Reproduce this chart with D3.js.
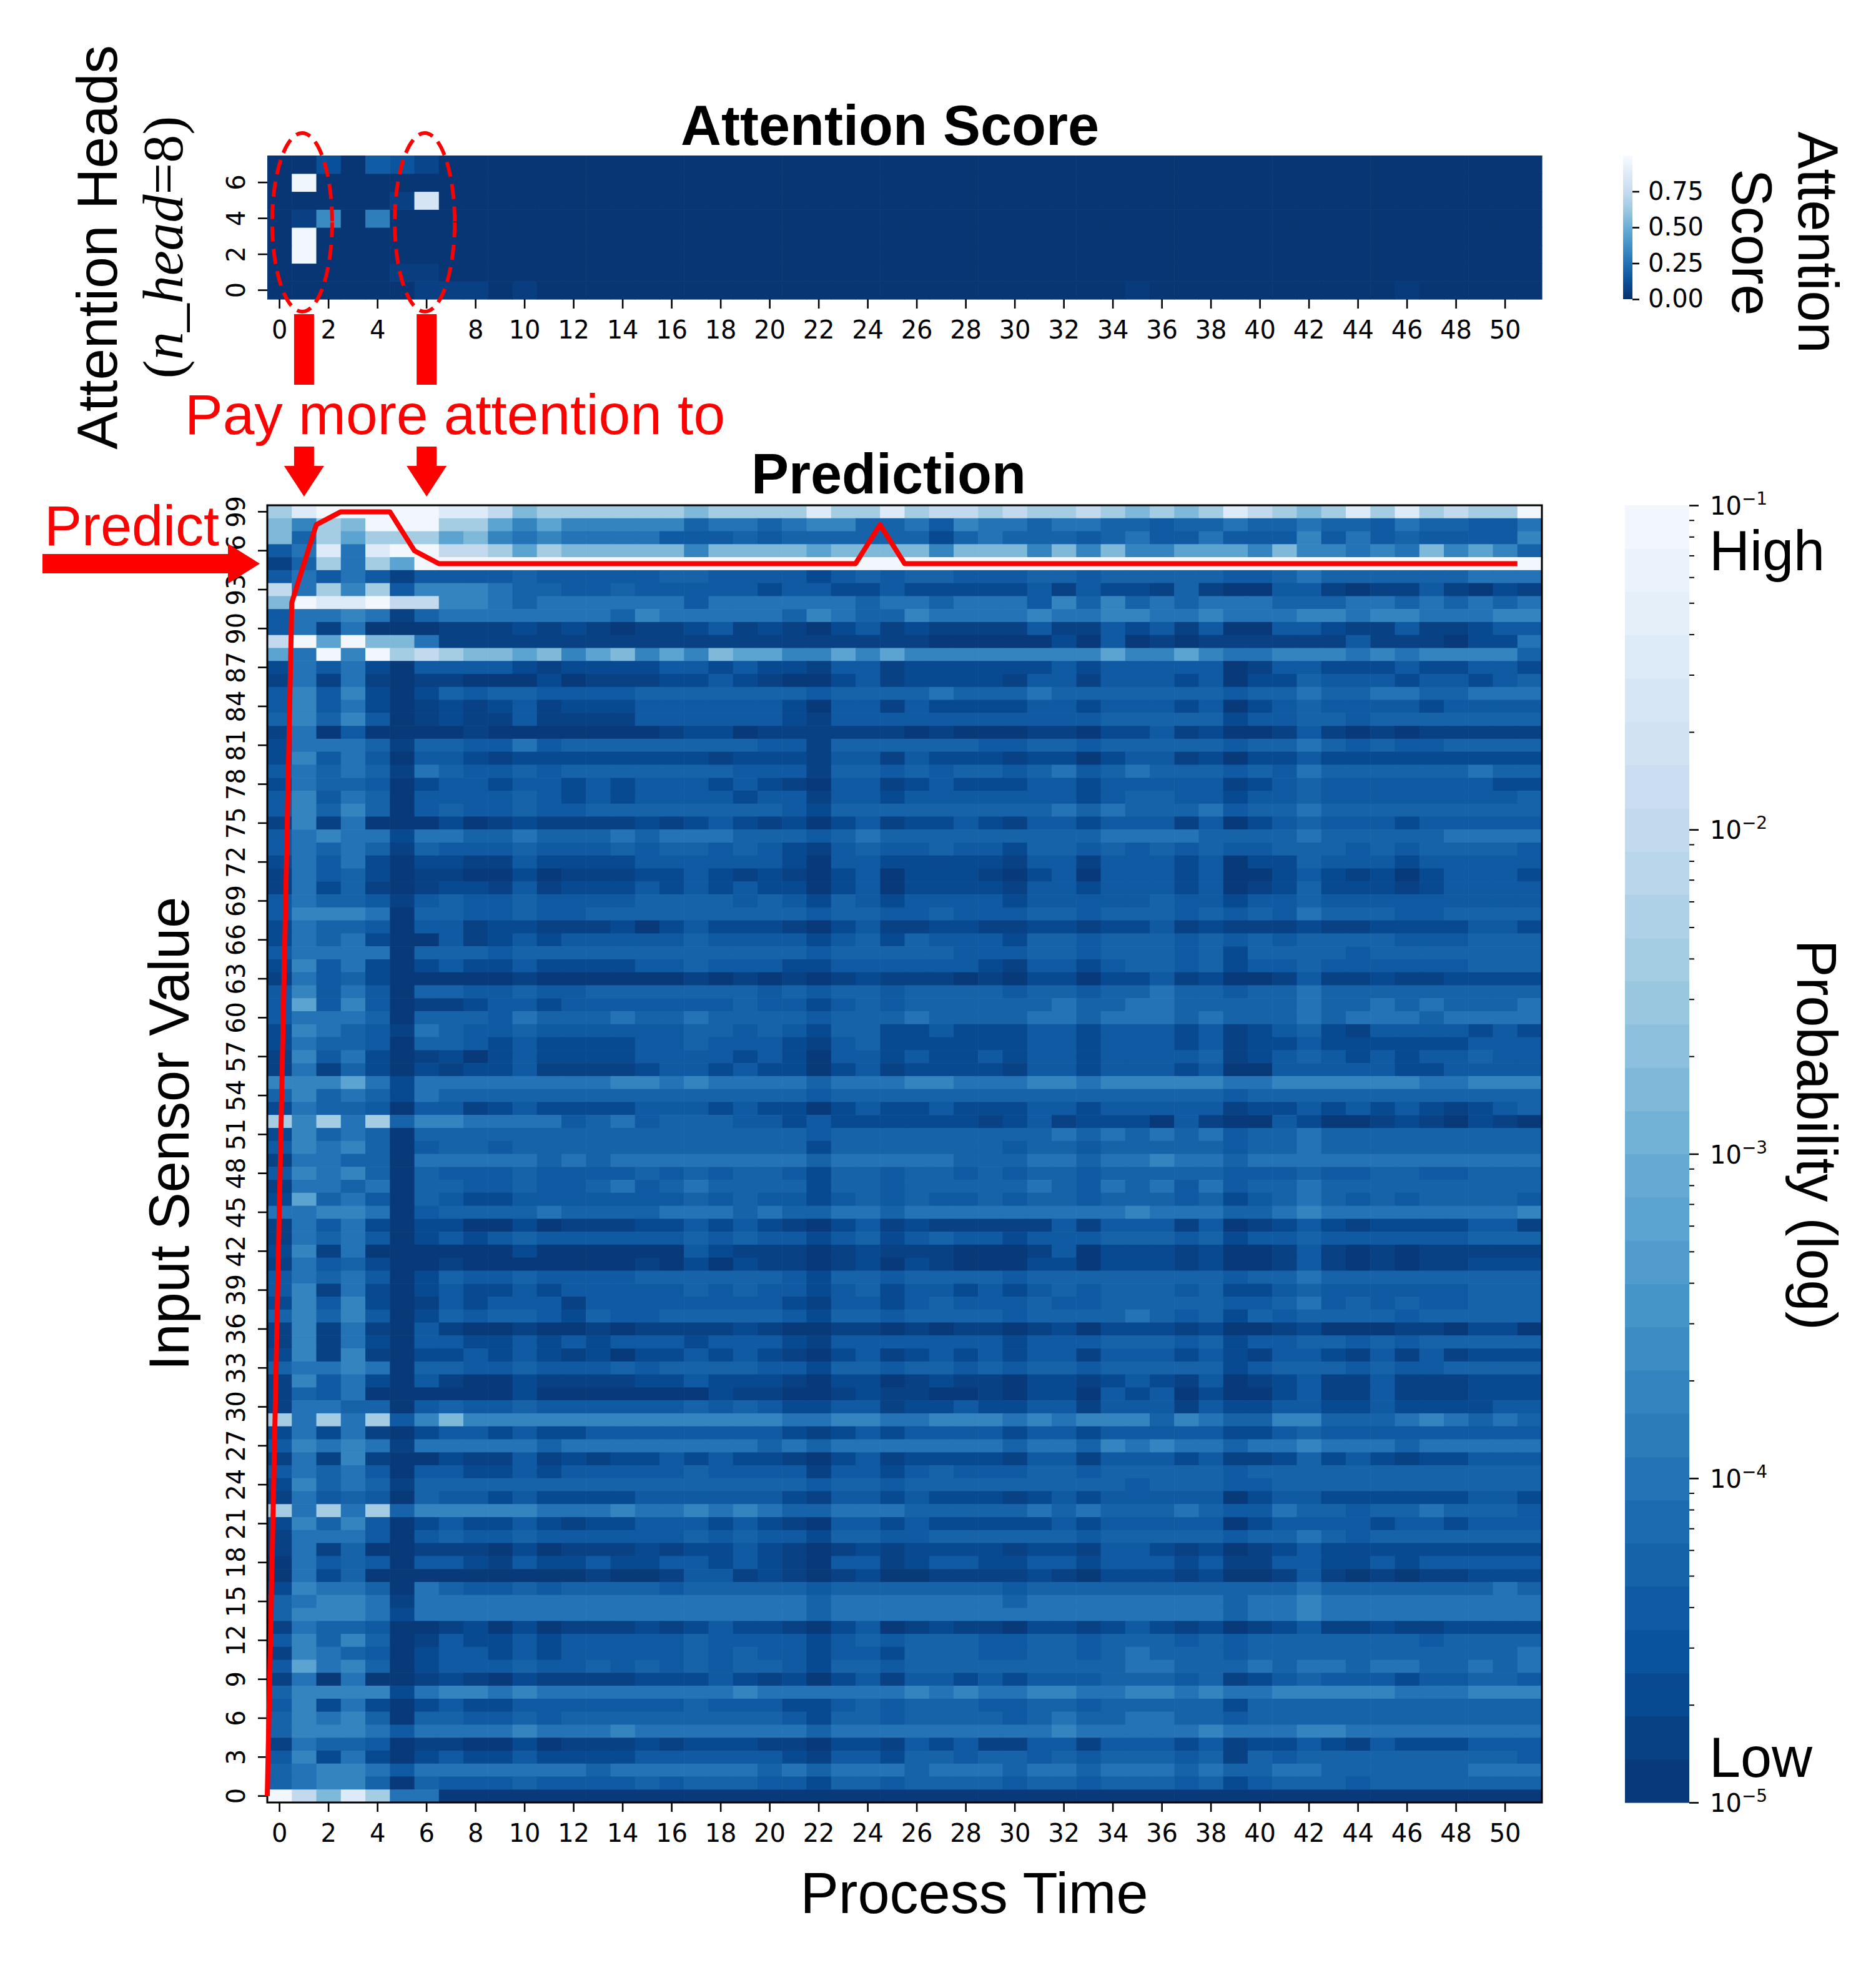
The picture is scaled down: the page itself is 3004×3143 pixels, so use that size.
<!DOCTYPE html>
<html>
<head>
<meta charset="utf-8">
<script src="https://cdn.jsdelivr.net/npm/d3@7"></script>
<style>
  body { margin: 0; background: #fff; }
</style>
</head>
<body>
<div id="chart"></div>
<script>
// ----- DATA ------------------------------------------------------------//
const timeSteps = d3.range(52);          // process time 0..51
const sensorValues = d3.range(100);      // input sensor value classes 0..99
const headIds = d3.range(8);             // attention heads 0..7

const xTickValues = d3.range(0, 52, 2);
const yTickValues = d3.range(0, 100, 3);
const headTickValues = [0, 2, 4, 6];
const attTickValues = [0, 0.25, 0.5, 0.75];
const probMajorTicks = [1e-5, 1e-4, 1e-3, 1e-2, 1e-1];

// attention score per head (row) and time step (column)
const head0 = [0.02,0.02,0.02,0.02,0.02,0.02,0.06,0.06,0.06,0.02,0.05,0.02,0.02,
               0.02,0.02,0.02,0.02,0.02,0.02,0.02,0.02,0.02,0.02,0.02,0.02,0.02,
               0.02,0.02,0.02,0.02,0.02,0.02,0.02,0.02,0.02,0.04,0.02,0.02,0.02,
               0.02,0.02,0.02,0.02,0.02,0.02,0.02,0.04,0.02,0.02,0.02,0.02,0.02];
const head1 = [0.02,0.02,0.02,0.02,0.02,0.05,0.05,0.02,0.02,0.02,0.02,0.02,0.02,
               0.02,0.02,0.02,0.02,0.02,0.02,0.02,0.02,0.02,0.02,0.02,0.02,0.02,
               0.02,0.02,0.02,0.02,0.02,0.02,0.02,0.02,0.02,0.02,0.02,0.02,0.02,
               0.02,0.02,0.02,0.02,0.02,0.02,0.02,0.02,0.02,0.02,0.02,0.02,0.02];
const head2 = [0.02,0.97,0.02,0.02,0.02,0.02,0.02,0.02,0.02,0.02,0.02,0.02,0.02,
               0.02,0.02,0.02,0.02,0.02,0.02,0.02,0.02,0.02,0.02,0.02,0.02,0.02,
               0.02,0.02,0.02,0.02,0.02,0.02,0.02,0.02,0.02,0.02,0.02,0.02,0.02,
               0.02,0.02,0.02,0.02,0.02,0.02,0.02,0.02,0.02,0.02,0.02,0.02,0.02];
const head3 = [0.02,0.97,0.02,0.02,0.02,0.02,0.02,0.02,0.02,0.02,0.02,0.02,0.02,
               0.02,0.02,0.02,0.02,0.02,0.02,0.02,0.02,0.02,0.02,0.02,0.02,0.02,
               0.02,0.02,0.02,0.02,0.02,0.02,0.02,0.02,0.02,0.02,0.02,0.02,0.02,
               0.02,0.02,0.02,0.02,0.02,0.02,0.02,0.02,0.02,0.02,0.02,0.02,0.02];
const head4 = [0.02,0.06,0.35,0.02,0.30,0.02,0.02,0.02,0.02,0.02,0.02,0.02,0.02,
               0.02,0.02,0.02,0.02,0.02,0.02,0.02,0.02,0.02,0.02,0.02,0.02,0.02,
               0.02,0.02,0.02,0.02,0.02,0.02,0.02,0.02,0.02,0.02,0.02,0.02,0.02,
               0.02,0.02,0.02,0.02,0.02,0.02,0.02,0.02,0.02,0.02,0.02,0.02,0.02];
const head5 = [0.02,0.02,0.02,0.02,0.02,0.06,0.83,0.02,0.02,0.02,0.02,0.02,0.02,
               0.02,0.02,0.02,0.02,0.02,0.02,0.02,0.02,0.02,0.02,0.02,0.02,0.02,
               0.02,0.02,0.02,0.02,0.02,0.02,0.02,0.02,0.02,0.02,0.02,0.02,0.02,
               0.02,0.02,0.02,0.02,0.02,0.02,0.02,0.02,0.02,0.02,0.02,0.02,0.02];
const head6 = [0.02,0.96,0.02,0.02,0.02,0.02,0.02,0.02,0.02,0.02,0.02,0.02,0.02,
               0.02,0.02,0.02,0.02,0.02,0.02,0.02,0.02,0.02,0.02,0.02,0.02,0.02,
               0.02,0.02,0.02,0.02,0.02,0.02,0.02,0.02,0.02,0.02,0.02,0.02,0.02,
               0.02,0.02,0.02,0.02,0.02,0.02,0.02,0.02,0.02,0.02,0.02,0.02,0.02];
const head7 = [0.02,0.02,0.12,0.02,0.17,0.14,0.08,0.02,0.02,0.02,0.02,0.02,0.02,
               0.02,0.02,0.02,0.02,0.02,0.02,0.02,0.02,0.02,0.02,0.02,0.02,0.02,
               0.02,0.02,0.02,0.02,0.02,0.02,0.02,0.02,0.02,0.02,0.02,0.02,0.02,
               0.02,0.02,0.02,0.02,0.02,0.02,0.02,0.02,0.02,0.02,0.02,0.02,0.02];
const attentionHeads = [head0, head1, head2, head3, head4, head5, head6, head7];

// log10 probability for each level code used in the grid below
const probLevelLog = {
  "0": -4.93, "1": -4.80, "2": -4.67, "3": -4.40, "4": -4.27, "5": -4.00,
  "6": -3.73, "7": -3.20, "8": -2.80, "9": -2.40, "a": -2.00, "b": -1.47, "c": -1.07
};

// prediction probability grid, one string per sensor value (99 at top, 0 at bottom),
// one level code per process time step (spaces only for readability)
const probRowsTopDown = [
  "9bccccc bba89999 9989999b 99b9aa9a 99a98989 ba989b9b 9a99c", // 99
  "8698ccc 99767666 66455456 64453655 45544344 54454435 44335",
  "8497999 78656555 53334344 44442454 44345335 33363534 33336",
  "35b5bcc aa979888 88688887 88886888 68686677 76866565 86764",
  "149597c cccccccc cccccccc cccccccc cccccccc cccccccc ccccc", // 95
  "3535313 33343333 34433332 34344333 44344444 33454444 44555",
  "a596936 66544334 33333233 22322222 31322141 00331011 31021",
  "8cbbcaa 66545555 55355555 54554555 36464545 55444554 54545",
  "3556514 55555554 65555546 54465555 65566556 55566566 55566",
  "3515000 11121210 11231210 23121111 31132313 00332113 11233", // 90
  "ac7c885 11111111 11111111 11110000 02030101 11111311 10225",
  "75c6c9a 98878678 67687766 76766666 66676676 55666565 66664",
  "2535203 33321222 23323221 33122222 23233333 01332223 22332",
  "1515101 10002011 12232100 23122221 33133323 02243332 33234",
  "3636202 43443333 44444443 44445444 54444444 34454455 44555", // 85
  "3635201 21231222 33333320 33132222 33233323 02343333 23333",
  "4646301 21131111 33333321 33333333 33344444 23344344 44444",
  "1503000 01000000 01220111 11101000 11022312 00131010 11111",
  "2555414 43353444 44444331 44444433 44344444 34454343 34444",
  "2635303 32122222 22212221 33132221 22023312 02232222 22222", // 80
  "3545415 43343444 44443331 44343443 45345444 34354444 44544",
  "2544302 33233232 33323210 33123222 33233333 12343333 33322",
  "3635403 33343232 33332331 33233333 33234433 23343333 33334",
  "3646403 43343344 44444432 44444444 45454445 34454444 44444",
  "1615000 20121111 21232120 23122321 33233313 02343332 33333", // 75
  "3565525 54454445 45554443 45444444 44455554 44454444 45555",
  "3545414 33343334 34434321 34334332 44343434 33444343 44443",
  "2535202 21132222 33333320 33222221 33133323 02243332 33333",
  "1534201 10020111 22321210 23022210 23033323 00232120 23332",
  "1524101 22131222 32323220 23022221 33233323 01242221 23333", // 70
  "3544313 43343333 44443432 43233332 33333433 23343333 33333",
  "3666504 43343344 44444443 44334333 44344434 34354443 34444",
  "2544303 31221112 02322210 23112211 22122312 11121122 22332",
  "2545200 31232333 33433332 34243332 44344434 34344443 33444",
  "3555504 44344444 44444443 44444333 44344434 24444344 44444", // 65
  "2635202 32232222 33433322 33333321 33234434 23343333 33444",
  "1534200 00010000 00101010 12111010 22022312 00131121 12222",
  "3635304 43343344 44444343 44344443 44344544 34454444 44444",
  "3736301 12332333 33334332 34344444 45445544 44454454 54445",
  "3555404 44354445 44544443 44454444 55455545 44454555 45555", // 60
  "2654315 43343333 33443432 44223222 33233323 12342133 33232",
  "2544304 43232222 33433321 34222222 33233323 12232222 22333",
  "1635201 20232222 33332320 33232232 33233334 12343232 33433",
  "1514202 12231111 23323220 23122221 33233323 00333332 23333",
  "6667525 55555556 65655554 55566555 66566666 55666666 55666", // 55
  "4645425 44444444 44444443 44444444 44444444 34444444 44444",
  "2544303 31232222 33323220 23223222 33233333 12232323 21234",
  "9695946 65555345 34443323 22222212 31222031 00320012 10210",
  "2645404 44444444 44444443 44444444 45454545 34454444 44444",
  "3656403 44344444 44444442 44444443 44344444 34454444 44444", // 50
  "1554405 55554545 55555554 55555444 55455655 45555555 55555",
  "3656404 33343333 43434432 44344343 44344444 33343344 33444",
  "1554504 43343345 34544442 44344444 54354535 34454444 44444",
  "2745304 32233333 33434332 34343343 44344434 23454343 44443",
  "5566503 44445444 45554544 55455555 55556555 44565555 55556", // 45
  "1535202 20020111 22323210 23121111 13133313 01232122 22331",
  "1545302 32343333 33434332 34234332 33344434 23343333 33444",
  "2615000 00020000 00321110 12111000 13022212 00131010 11111",
  "1534200 10000000 10202110 12021000 22022212 00131010 11222",
  "3545302 43343333 44444432 44344443 44444444 34454444 44444", // 40
  "3615202 32232333 33434332 34233232 34344434 22343333 33444",
  "2636201 32333133 33333321 33234333 43344444 33453434 33444",
  "4646302 43443243 34444432 44344443 44445434 24344443 44444",
  "1615103 10010010 11112100 11010110 12022212 00120001 10220",
  "1615203 32232323 33233321 33333332 33344434 23344343 44444", // 35
  "2616102 23232120 22323210 23123232 33133323 21332131 31222",
  "4556504 43343334 34444332 44344343 44344444 23444343 34444",
  "1635203 10021111 22322210 22012110 22123213 01231131 11222",
  "1435000 00020000 00021100 12110010 22032302 00231131 11222",
  "1554403 43343333 33434322 33122322 33133313 22332232 22233", // 30
  "9595936 86666666 66666655 66556665 65666465 44664445 65454",
  "2525102 33232233 33333321 23233332 33233333 22343333 33333",
  "3656515 55554555 55555454 55555554 55465655 45565554 55555",
  "1516100 21131212 23232210 23122221 33133323 11242321 22333",
  "3545303 32232333 33433331 33234333 44344444 34444444 44444", // 25
  "2645414 44444444 44444443 44344444 44443444 33444444 44444",
  "1534304 33232222 33333321 33232221 23233333 02332222 22332",
  "9595946 66665556 55656544 55544444 54544454 33544344 54443",
  "2646302 32232122 33323210 33232222 23233333 02333323 32333",
  "1555303 43343333 33434332 44334444 44344444 34454344 44444", // 20
  "1514001 11020111 21223210 12122221 22133212 01232222 22222",
  "0534303 32132232 23323210 33123322 33233323 11332232 33333",
  "0524000 00000010 01331210 12001111 21022212 00131010 11222",
  "2655405 43343444 43444443 44444443 44444444 44454444 44454",
  "4566515 55555555 55555554 55555554 55555555 45565555 55555", // 15
  "4666525 55555555 55555554 55555555 55555555 45565555 55555",
  "1544300 12020111 21232210 23012110 22123212 01231121 12222",
  "3646401 32232333 33433332 34344433 44344434 34444444 34444",
  "1654302 33232333 33434332 33244433 44345444 34444444 44445",
  "3756402 33343343 43434432 44344444 44445544 45455455 44545", // 10
  "1505001 21021111 22232120 23133232 33344434 12343332 33443",
  "4666625 66565555 55556555 55565655 66556656 55666665 55666",
  "3625202 32233333 33433322 34344433 44344444 24444444 44444",
  "4656404 43343444 44444432 44344443 45445544 34444444 44444",
  "4666535 55565556 55555554 55555555 56555556 55566555 55555", // 5
  "1544301 10020111 21222110 22132311 33133323 12232132 22333",
  "3625202 32232222 33333321 33244344 34344434 14344444 44443",
  "4566535 55555545 55555454 55545554 55455545 44554444 44555",
  "4566404 33343333 43444332 44344443 44344434 23444344 44444",
  "ca8b955 00000000 00000000 00000000 00000000 00000000 00000"  // 0
];

// predicted sensor value at every process time step (red line)
const predictedValue = [0, 92, 98, 99, 99, 99, 96,
  95, 95, 95, 95, 95, 95, 95, 95, 95, 95, 95, 95, 95, 95, 95, 95, 95, 95,
  98,
  95, 95, 95, 95, 95, 95, 95, 95, 95, 95, 95, 95, 95, 95, 95, 95, 95, 95,
  95, 95, 95, 95, 95, 95, 95, 95];

// time steps the heads attend to most (annotation)
const attendedSteps = [1, 6];
// sensor value the model predicts (annotation arrow)
const predictArrowValue = 95;

// ----- SETUP -----------------------------------------------------------//
const width = 3004;
const height = 3143;

const plotX0 = 428, plotX1 = 2469;
const headY0 = 249, headY1 = 479;
const probY0 = 809, probY1 = 2886;
const sansFont = "'Liberation Sans', Arial, sans-serif";
const tickFont = "'DejaVu Sans', sans-serif";
const red = "#ff0000";

const svg = d3.select("#chart").append("svg")
    .attr("width", width)
    .attr("height", height)
    .style("background", "#fff");

// matplotlib "Blues" (piecewise linear through its 9 anchors)
const blues = d3.scaleLinear()
    .domain([0, 0.125, 0.25, 0.375, 0.5, 0.625, 0.75, 0.875, 1])
    .range(["#f7fbff", "#deebf7", "#c6dbef", "#9ecae1", "#6baed6",
            "#4292c6", "#2171b5", "#08519c", "#08306b"])
    .interpolate(d3.interpolateRgb);

const nBands = 30;
const bandColors = d3.range(nBands).map(i => blues(1 - (i + 1) / (nBands + 1)));
const probColor = d3.scaleQuantize().domain([-5, -1]).range(bandColors);
const attColor = v => blues(1 - v);

const x = d3.scaleBand().domain(timeSteps).range([plotX0, plotX1]);
const xEdge = d3.scaleLinear().domain([0, timeSteps.length]).range([plotX0, plotX1]);
const yHead = d3.scaleBand().domain(headIds.slice().reverse()).range([headY0, headY1]);
const yProb = d3.scaleBand().domain(sensorValues.slice().reverse()).range([probY0, probY1]);

function styleAxis(g, size) {
    g.attr("font-family", tickFont).attr("font-size", size || 40);
    g.select(".domain").remove();
    g.selectAll(".tick line").attr("stroke", "#000").attr("stroke-width", 2.6);
    g.selectAll(".tick text").attr("fill", "#000");
}

function rotateLeftLabels(g) {
    g.selectAll(".tick text")
        .attr("transform", "rotate(-90)")
        .attr("x", 0)
        .attr("y", -36)
        .attr("dy", "0")
        .attr("text-anchor", "middle");
}

// ----- ATTENTION HEATMAP ------------------------------------------------//
const attCells = attentionHeads.flatMap((row, h) => row.map((v, t) => ({h: h, t: t, v: v})));

svg.append("g")
    .selectAll("rect")
    .data(attCells)
    .join("rect")
    .attr("x", d => x(d.t))
    .attr("y", d => yHead(d.h))
    .attr("width", x.bandwidth() + 0.6)
    .attr("height", yHead.bandwidth() + 0.6)
    .attr("fill", d => attColor(d.v));

svg.append("g")
    .attr("transform", "translate(0," + headY1 + ")")
    .call(d3.axisBottom(x).tickValues(xTickValues).tickSize(15).tickPadding(20))
    .call(styleAxis);

svg.append("g")
    .attr("transform", "translate(" + plotX0 + ",0)")
    .call(d3.axisLeft(yHead).tickValues(headTickValues).tickSize(15))
    .call(styleAxis)
    .call(rotateLeftLabels);

// ----- PREDICTION HEATMAP -----------------------------------------------//
const probCells = probRowsTopDown.flatMap((s, i) => {
    const codes = s.replace(/ /g, "");
    if (codes.length !== timeSteps.length) throw new Error("row " + (99 - i) + " has " + codes.length);
    return codes.split("").map((c, t) => ({row: 99 - i, t: t, logp: probLevelLog[c]}));
});

svg.append("g")
    .selectAll("rect")
    .data(probCells)
    .join("rect")
    .attr("x", d => x(d.t))
    .attr("y", d => yProb(d.row))
    .attr("width", x.bandwidth() + 0.6)
    .attr("height", yProb.bandwidth() + 0.6)
    .attr("fill", d => probColor(d.logp));

svg.append("rect")
    .attr("x", plotX0)
    .attr("y", probY0)
    .attr("width", plotX1 - plotX0)
    .attr("height", probY1 - probY0)
    .attr("fill", "none")
    .attr("stroke", "#000")
    .attr("stroke-width", 3);

svg.append("g")
    .attr("transform", "translate(0," + probY1 + ")")
    .call(d3.axisBottom(x).tickValues(xTickValues).tickSize(15).tickPadding(20))
    .call(styleAxis);

svg.append("g")
    .attr("transform", "translate(" + plotX0 + ",0)")
    .call(d3.axisLeft(yProb).tickValues(yTickValues).tickSize(15))
    .call(styleAxis)
    .call(rotateLeftLabels);

// predicted value line
const predLine = d3.line()
    .x((d, t) => xEdge(t))
    .y(d => yProb(d) + yProb.bandwidth() / 2);

svg.append("path")
    .attr("d", predLine(predictedValue))
    .attr("fill", "none")
    .attr("stroke", red)
    .attr("stroke-width", 8)
    .attr("stroke-linejoin", "round");

// ----- COLORBARS --------------------------------------------------------//
// attention score colorbar (continuous)
const attCbX0 = 2599, attCbX1 = 2614;
const attScale = d3.scaleLinear().domain([0, 1]).range([headY1, headY0]);
const grad = svg.append("defs").append("linearGradient")
    .attr("id", "attGrad")
    .attr("x1", 0).attr("y1", 1).attr("x2", 0).attr("y2", 0);
grad.selectAll("stop")
    .data(d3.range(0, 1.0001, 0.05))
    .join("stop")
    .attr("offset", d => d)
    .attr("stop-color", d => attColor(d));

svg.append("rect")
    .attr("x", attCbX0)
    .attr("y", headY0)
    .attr("width", attCbX1 - attCbX0)
    .attr("height", headY1 - headY0)
    .attr("fill", "url(#attGrad)");

svg.append("g")
    .attr("transform", "translate(" + attCbX1 + ",0)")
    .call(d3.axisRight(attScale).tickValues(attTickValues).tickFormat(d3.format(".2f")).tickSize(11).tickPadding(14))
    .call(g => styleAxis(g, 40));

// probability colorbar (30 discrete log bands)
const cbX0 = 2602, cbX1 = 2705;
const logBand = d3.scaleLinear().domain([-5, -1]).range([probY1, probY0]);
svg.append("g")
    .selectAll("rect")
    .data(bandColors)
    .join("rect")
    .attr("x", cbX0)
    .attr("width", cbX1 - cbX0)
    .attr("y", (c, i) => logBand(-5 + (i + 1) * 4 / nBands))
    .attr("height", (probY1 - probY0) / nBands + 0.6)
    .attr("fill", c => c);

const probScale = d3.scaleLog().domain([1e-5, 1e-1]).range([probY1, probY0]);
const minorTicks = [1e-5, 1e-4, 1e-3, 1e-2].flatMap(b => d3.range(2, 10).map(m => m * b));

svg.append("g")
    .attr("transform", "translate(" + cbX1 + ",0)")
    .call(d3.axisRight(probScale).tickValues(probMajorTicks).tickFormat("").tickSize(15))
    .call(styleAxis);

svg.append("g")
    .attr("transform", "translate(" + cbX1 + ",0)")
    .call(d3.axisRight(probScale).tickValues(minorTicks).tickFormat("").tickSize(8))
    .call(styleAxis)
    .call(g => g.selectAll(".tick line").attr("stroke-width", 2));

const expLabels = svg.append("g")
    .attr("font-family", tickFont)
    .selectAll("text")
    .data(probMajorTicks)
    .join("text")
    .attr("x", cbX1 + 33)
    .attr("y", d => probScale(d) + 15)
    .attr("font-size", 40);
expLabels.append("tspan").text("10");
expLabels.append("tspan")
    .attr("font-size", 28)
    .attr("dy", -16)
    .text(d => "\u2212" + Math.round(-Math.log10(d)));

// ----- TEXT -------------------------------------------------------------//
function addText(txt, xPos, yPos, opts) {
    opts = opts || {};
    const t = svg.append("text")
        .attr("transform", "translate(" + xPos + "," + yPos + ")" + (opts.rotate ? " rotate(" + opts.rotate + ")" : ""))
        .attr("font-family", opts.family || sansFont)
        .attr("font-size", opts.size || 90)
        .attr("font-weight", opts.weight || "normal")
        .attr("text-anchor", opts.anchor || "middle")
        .attr("fill", opts.color || "#000")
        .text(txt);
    return t;
}

addText("Attention Score", 1425, 232, {weight: "bold"});
addText("Prediction", 1423, 790, {weight: "bold"});
addText("Process Time", 1560, 3063, {size: 92});
addText("Input Sensor Value", 302, 1815, {rotate: -90});
addText("Attention Heads", 187, 396, {rotate: -90, size: 91});

const nHead = svg.append("text")
    .attr("transform", "translate(292,396) rotate(-90)")
    .attr("font-family", "'Liberation Serif', 'Times New Roman', serif")
    .attr("font-size", 90)
    .attr("text-anchor", "middle");
nHead.append("tspan").text("(");
nHead.append("tspan").attr("font-style", "italic").text("n_head");
nHead.append("tspan").text("=8)");

addText("Attention", 2880, 388, {rotate: 90});
addText("Score", 2774, 388, {rotate: 90});
addText("Probability (log)", 2878, 1817, {rotate: 90});
addText("High", 2737, 913, {anchor: "start"});
addText("Low", 2737, 2845, {anchor: "start"});

// ----- ANNOTATIONS ------------------------------------------------------//
const ann = svg.append("g").attr("fill", red);

// dashed ellipses round the attended columns of the head map
ann.selectAll("ellipse")
    .data(attendedSteps)
    .join("ellipse")
    .attr("cx", d => x(d) + x.bandwidth() / 2 - 3)
    .attr("cy", 356)
    .attr("rx", 48)
    .attr("ry", 143)
    .attr("fill", "none")
    .attr("stroke", red)
    .attr("stroke-width", 6)
    .attr("stroke-dasharray", "24 12");

// bars below the head map
ann.selectAll("rect.bar")
    .data(attendedSteps)
    .join("rect")
    .attr("class", "bar")
    .attr("x", d => x(d) + x.bandwidth() / 2 - 16)
    .attr("y", 503)
    .attr("width", 32)
    .attr("height", 113);

// down arrows into the prediction map
ann.selectAll("path.down")
    .data(attendedSteps)
    .join("path")
    .attr("class", "down")
    .attr("d", d => {
        const c = x(d) + x.bandwidth() / 2;
        return "M" + (c - 16) + ",715 H" + (c + 16) + " V746 H" + (c + 32) +
               " L" + c + ",795 L" + (c - 32) + ",746 H" + (c - 16) + " Z";
    });

addText("Pay more attention to", 296, 695, {anchor: "start", color: red, size: 91});
addText("Predict", 71, 873, {anchor: "start", color: red});

// right arrow pointing at the predicted sensor value
const ay = yProb(predictArrowValue) + yProb.bandwidth() / 2;
ann.append("path")
    .attr("d", "M68," + (ay - 15.5) + " H365 V" + (ay - 32) + " L416," + ay +
               " L365," + (ay + 32) + " V" + (ay + 15.5) + " H68 Z");
</script>
</body>
</html>
